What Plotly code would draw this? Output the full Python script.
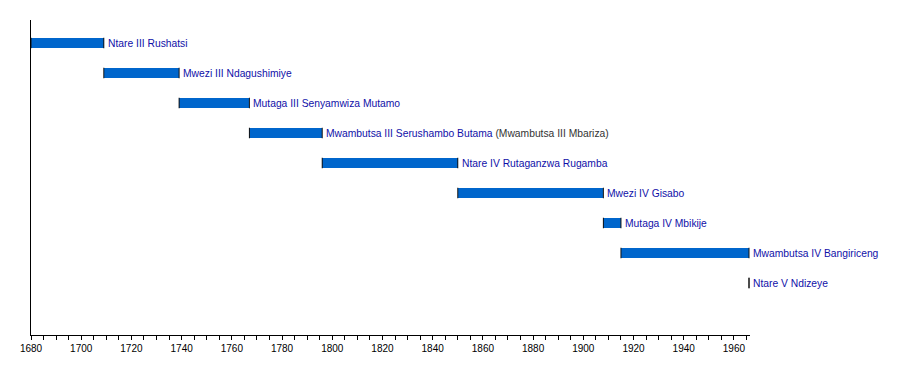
import plotly.graph_objects as go

names = [
    "Ntare III Rushatsi",
    "Mwezi III Ndagushimiye",
    "Mutaga III Senyamwiza Mutamo",
    "Mwambutsa III Serushambo Butama",
    "Ntare IV Rutaganzwa Rugamba",
    "Mwezi IV Gisabo",
    "Mutaga IV Mbikije",
    "Mwambutsa IV Bangiriceng",
    "Ntare V Ndizeye",
]
notes = ["", "", "", "(Mwambutsa III Mbariza)", "", "", "", "", ""]
starts = [1680, 1709, 1739, 1767, 1796, 1850, 1908, 1915, 1966]
ends = [1709, 1739, 1767, 1796, 1850, 1908, 1915, 1966, 1966]
rows = list(range(len(names)))

BAR = "#0066cc"
LINK = "#1010a8"
FONT = "Liberation Sans, Arial, sans-serif"

fig = go.Figure()
fig.add_trace(go.Bar(
    orientation="h",
    y=rows,
    x=[e - s for s, e in zip(starts, ends)],
    base=starts,
    width=0.35,
    marker=dict(color=BAR, line=dict(width=0)),
    hoverinfo="skip",
))
# dark end caps
fig.add_trace(go.Scatter(
    x=starts + ends,
    y=rows + rows,
    mode="markers",
    marker=dict(symbol="line-ns", size=7.5, line=dict(color="#111111", width=1)),
    hoverinfo="skip",
    cliponaxis=False,
))

for r, n, note, e in zip(rows, names, notes, ends):
    txt = n
    if note:
        txt += " <span style='color:#333333'>" + note + "</span>"
    fig.add_annotation(
        x=e, y=r, text=txt, showarrow=False, xanchor="left", yanchor="middle",
        xshift=2, font=dict(family=FONT, size=10.3, color=LINK),
    )

fig.update_layout(
    width=900, height=365,
    margin=dict(l=31, r=150, t=20, b=30, autoexpand=False),
    plot_bgcolor="white", paper_bgcolor="white",
    showlegend=False,
    bargap=0,
)
fig.update_xaxes(
    range=[1680, 1966.4], automargin=False,
    showgrid=False, zeroline=False,
    showline=True, linecolor="black", linewidth=1,
    tick0=1680, dtick=20, ticks="outside", ticklen=4, tickcolor="black", tickwidth=1,
    minor=dict(dtick=5, ticks="outside", ticklen=4, tickcolor="black", tickwidth=1, showgrid=False),
    tickfont=dict(family=FONT, size=10, color="black"),
)
fig.update_yaxes(
    range=[9.733, -0.767], automargin=False,
    showgrid=False, zeroline=False, showticklabels=False,
    showline=True, linecolor="black", linewidth=1,
)

fig.write_html("out.html", post_script="document.body.style.margin='0';",
               config={"displayModeBar": False})
